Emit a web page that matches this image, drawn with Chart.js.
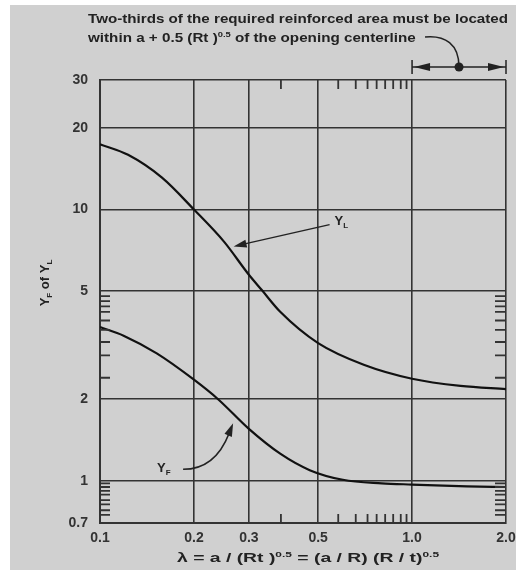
<!DOCTYPE html>
<html>
<head>
<meta charset="utf-8">
<script src="https://cdn.jsdelivr.net/npm/chart.js@4.4.1/dist/chart.umd.min.js"></script>
<style>
  html, body { margin: 0; padding: 0; background: #ffffff; }
  #wrap { width: 516px; height: 570px; }
</style>
</head>
<body>
<div id="wrap"><canvas id="myChart" width="516" height="570"></canvas></div>
<script>
// axis ticks
const xTicks = [0.1, 0.2, 0.3, 0.5, 1, 2];
const xTickLabels = ["0.1", "0.2", "0.3", "0.5", "1.0", "2.0"];
const yTicks = [0.7, 1, 2, 5, 10, 20, 30];
const yTickLabels = ["0.7", "1", "2", "5", "10", "20", "30"];

// short minor ticks drawn inside the frame
const xMinorTicks = [0.38, 0.58, 0.66, 0.72, 0.77, 0.82, 0.87, 0.92, 0.96];
const yMinorLow = [0.98, 0.95, 0.92, 0.89, 0.85, 0.82, 0.78, 0.75];
const yMinorMid = [4.8, 4.6, 4.4, 4.2, 3.9, 3.6, 3.25, 2.9, 2.4];

// curve Y_L
const lambdaL = [0.1, 0.123, 0.158, 0.2, 0.25, 0.3, 0.33, 0.378, 0.5, 0.7, 1.0, 1.43, 2.0];
const valuesL = [17.4, 15.9, 13.1, 10, 7.6, 5.75, 5.05, 4.2, 3.22, 2.68, 2.38, 2.24, 2.18];

// curve Y_F
const lambdaF = [0.1, 0.119, 0.152, 0.2, 0.239, 0.3, 0.378, 0.47, 0.6, 0.8, 1.0, 1.5, 2.0];
const valuesF = [3.69, 3.43, 2.95, 2.36, 2.0, 1.555, 1.26, 1.096, 1.01, 0.98, 0.97, 0.955, 0.95];

const FONT = "'Liberation Sans', Arial, sans-serif";
const INK = "#222";

// text made of pieces (normal / superscript / subscript)
function runWidth(ctx, runs) {
    let w = 0;
    runs.forEach(r => {
        ctx.font = "bold " + r.size + "px " + FONT;
        w += ctx.measureText(r.t).width;
    });
    return w;
}
// draws runs starting at x (or centred on x); stretched to width if given
function drawRuns(ctx, x, y, runs, align, width) {
    const w = runWidth(ctx, runs);
    const sx = width ? width / w : 1;
    ctx.save();
    ctx.translate(align === "center" ? x - w * sx / 2 : x, y);
    ctx.scale(sx, 1);
    ctx.textBaseline = "alphabetic";
    ctx.textAlign = "left";
    let cx = 0;
    runs.forEach(r => {
        ctx.font = "bold " + r.size + "px " + FONT;
        ctx.fillText(r.t, cx, r.dy || 0);
        cx += ctx.measureText(r.t).width;
    });
    ctx.restore();
}
function arrowHead(ctx, tx, ty, fromX, fromY, len, half) {
    const a = Math.atan2(ty - fromY, tx - fromX);
    ctx.beginPath();
    ctx.moveTo(tx, ty);
    ctx.lineTo(tx - len * Math.cos(a) + half * Math.sin(a), ty - len * Math.sin(a) - half * Math.cos(a));
    ctx.lineTo(tx - len * Math.cos(a) - half * Math.sin(a), ty - len * Math.sin(a) + half * Math.cos(a));
    ctx.closePath();
    ctx.fill();
}

const decorations = {
    id: "decorations",
    beforeDraw(chart) {
        const ctx = chart.ctx;
        ctx.save();
        ctx.fillStyle = "#ffffff";
        ctx.fillRect(0, 0, chart.width, chart.height);
        ctx.fillStyle = "#d0d0d0";
        ctx.fillRect(10, 5, chart.width - 10, chart.height - 5);
        ctx.restore();
    },
    afterDatasetsDraw(chart) {
        const ctx = chart.ctx;
        const xs = chart.scales.x, ys = chart.scales.y;
        const a = chart.chartArea;
        ctx.save();
        ctx.strokeStyle = "#333";
        ctx.lineWidth = 1.8;
        ctx.beginPath();
        xMinorTicks.forEach(v => {
            const px = xs.getPixelForValue(v);
            ctx.moveTo(px, a.top); ctx.lineTo(px, a.top + 9);
            ctx.moveTo(px, a.bottom); ctx.lineTo(px, a.bottom - 9);
        });
        yMinorLow.concat(yMinorMid).forEach(v => {
            const py = ys.getPixelForValue(v);
            ctx.moveTo(a.left, py); ctx.lineTo(a.left + 10, py);
            ctx.moveTo(a.right, py); ctx.lineTo(a.right - 11, py);
        });
        ctx.stroke();
        ctx.restore();
    },
    afterDraw(chart) {
        const ctx = chart.ctx;
        const xs = chart.scales.x, ys = chart.scales.y;
        const a = chart.chartArea;
        ctx.save();
        ctx.fillStyle = INK;
        ctx.strokeStyle = INK;

        // note at the top
        drawRuns(ctx, 88, 23, [{ t: "Two-thirds of the required reinforced area must be located", size: 13 }], "left", 420);
        const line2 = [
            { t: "within a + 0.5 (Rt )", size: 13 },
            { t: "0.5", size: 8, dy: -5 },
            { t: " of the opening centerline", size: 13 }
        ];
        drawRuns(ctx, 88, 42, line2, "left", runWidth(ctx, line2) * 1.17);

        // dimension arrow between 1.0 and 2.0
        const x1 = xs.getPixelForValue(1), x2 = xs.getPixelForValue(2);
        const yd = a.top - 13;
        const mid = (x1 + x2) / 2;
        ctx.lineWidth = 1.5;
        ctx.beginPath();
        ctx.moveTo(x1, yd - 7); ctx.lineTo(x1, yd + 7);
        ctx.moveTo(x2, yd - 7); ctx.lineTo(x2, yd + 7);
        ctx.moveTo(x1, yd); ctx.lineTo(x2, yd);
        ctx.stroke();
        arrowHead(ctx, x1 + 2, yd, x1 + 20, yd, 16, 4);
        arrowHead(ctx, x2 - 2, yd, x2 - 20, yd, 16, 4);
        ctx.beginPath();
        ctx.arc(mid, yd, 4.5, 0, Math.PI * 2);
        ctx.fill();
        ctx.beginPath();
        ctx.moveTo(mid - 34, 37);
        ctx.bezierCurveTo(mid - 14, 35, mid, 44, mid, yd);
        ctx.stroke();

        // Y_L label and arrow
        const tL = { x: xs.getPixelForValue(0.268), y: ys.getPixelForValue(7.3) };
        drawRuns(ctx, tL.x + 101, tL.y - 22, [{ t: "Y", size: 13 }, { t: "L", size: 8, dy: 3 }], "left");
        ctx.lineWidth = 1.5;
        ctx.beginPath();
        ctx.moveTo(tL.x + 96, tL.y - 22);
        ctx.lineTo(tL.x + 10, tL.y - 2.5);
        ctx.stroke();
        arrowHead(ctx, tL.x, tL.y, tL.x + 96, tL.y - 22, 13, 4);

        // Y_F label and arrow
        const tF = { x: xs.getPixelForValue(0.267), y: ys.getPixelForValue(1.63) };
        drawRuns(ctx, tF.x - 76, tF.y + 49, [{ t: "Y", size: 13 }, { t: "F", size: 8, dy: 3 }], "left");
        ctx.beginPath();
        ctx.moveTo(tF.x - 50, tF.y + 46);
        ctx.quadraticCurveTo(tF.x - 18, tF.y + 46, tF.x - 4, tF.y + 10);
        ctx.stroke();
        arrowHead(ctx, tF.x, tF.y, tF.x - 9, tF.y + 22, 13, 4);

        // axis titles
        drawRuns(ctx, 308, 562, [
            { t: "\u03bb = a / (Rt )", size: 13 },
            { t: "0.5", size: 8, dy: -5 },
            { t: " = (a / R) (R / t)", size: 13 },
            { t: "0.5", size: 8, dy: -5 }
        ], "center", 262);

        ctx.translate(49, 283);
        ctx.rotate(-Math.PI / 2);
        drawRuns(ctx, 0, 0, [
            { t: "Y", size: 13 }, { t: "F", size: 8, dy: 3 },
            { t: " of Y", size: 13 }, { t: "L", size: 8, dy: 3 }
        ], "center");
        ctx.restore();
    }
};

const canvas = document.getElementById("myChart");
const ctx = canvas.getContext("2d");

const curveStyle = {
    borderColor: "#111",
    borderWidth: 2.2,
    pointRadius: 0,
    fill: false,
    cubicInterpolationMode: "monotone"
};

window.myChart = new Chart(ctx, {
    type: "line",
    data: {
        datasets: [
            Object.assign({ label: "Y_L", data: lambdaL.map((v, i) => ({ x: v, y: valuesL[i] })) }, curveStyle),
            Object.assign({ label: "Y_F", data: lambdaF.map((v, i) => ({ x: v, y: valuesF[i] })) }, curveStyle)
        ]
    },
    options: {
        responsive: false,
        animation: false,
        layout: { padding: { top: 80, right: 10, left: 0, bottom: 0 } },
        plugins: {
            legend: { display: false },
            tooltip: { enabled: false }
        },
        scales: {
            x: {
                type: "logarithmic",
                min: 0.1,
                max: 2,
                afterBuildTicks: s => { s.ticks = xTicks.map(v => ({ value: v })); },
                afterFit: s => { s.height = 47; s.paddingLeft = 0; s.paddingRight = 0; },
                ticks: {
                    callback: (v, i) => xTickLabels[i],
                    autoSkip: false,
                    maxRotation: 0,
                    padding: 7,
                    color: "#333",
                    font: { family: FONT, size: 14, weight: "bold" }
                },
                grid: { color: "#333", lineWidth: 1.6, drawTicks: false },
                border: { color: "#333", width: 2 }
            },
            y: {
                type: "logarithmic",
                min: 0.7,
                max: 30,
                afterBuildTicks: s => { s.ticks = yTicks.map(v => ({ value: v })); },
                afterFit: s => { s.width = 100; s.paddingTop = 0; s.paddingBottom = 0; },
                ticks: {
                    callback: (v, i) => yTickLabels[i],
                    autoSkip: false,
                    padding: 12,
                    color: "#333",
                    font: { family: FONT, size: 14, weight: "bold" }
                },
                grid: { color: "#333", lineWidth: 1.6, drawTicks: false },
                border: { color: "#333", width: 2 }
            }
        }
    },
    plugins: [decorations]
});
</script>
</body>
</html>
